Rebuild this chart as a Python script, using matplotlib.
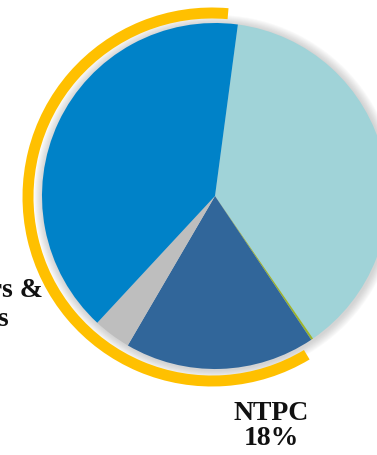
import matplotlib
matplotlib.use("Agg")
import matplotlib.pyplot as plt
from matplotlib.patches import Wedge, Circle

# Data (shares, %), clockwise from the top
categories = ["State", "Other", "NTPC", "Misc", "Central"]
values = [38.3, 0.2, 17.8, 3.5, 40.2]
colors = ["#A0D3D8", "#9BB52A", "#31669A", "#BEBEBE", "#0082C8"]
label_ntpc = "NTPC\n18%"
label_left = "Others &\nJVs"

W, H = 377, 456
fig = plt.figure(figsize=(W / 100, H / 100), dpi=100)
ax = fig.add_axes([0, 0, 1, 1])

cx, cy, R = 215, H - 197, 173

# soft shadow around the pie
for k in range(9, 0, -1):
    ax.add_patch(Circle((cx + 1, cy - 1), R + k, color="#888888",
                        alpha=0.045, lw=0, zorder=1))

ax.pie(values, colors=colors, startangle=82.4, counterclock=False,
       center=(cx, cy), radius=R, frame=True,
       wedgeprops=dict(linewidth=0, zorder=2))

# yellow outer arc
ax.add_patch(Wedge((212, H - 198), 189.5, 85, 301, width=11,
                   color="#FFC000", lw=0, zorder=3))

ax.text(271, H - 426, label_ntpc, ha="center", va="center",
        fontsize=20, fontweight="bold", family="Liberation Serif",
        linespacing=1.05, color="#111111", zorder=4)
ax.text(-13, H - 305, label_left, ha="center", va="center",
        fontsize=20, fontweight="bold", family="Liberation Serif",
        linespacing=1.2, color="#111111", zorder=4)

ax.set_xlim(0, W)
ax.set_ylim(0, H)
ax.set_aspect("equal")
ax.axis("off")
fig.savefig("out.png", dpi=100)
